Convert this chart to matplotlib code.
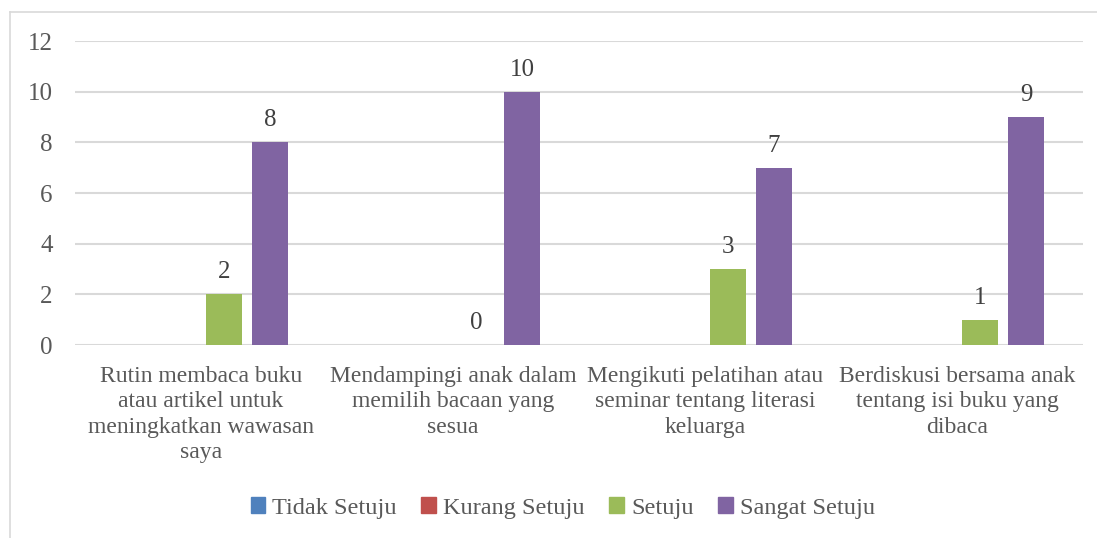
import numpy as np
import matplotlib.pyplot as plt
from matplotlib.lines import Line2D

categories = ["Rutin membaca buku\natau artikel untuk\nmeningkatkan wawasan\nsaya",
              "Mendampingi anak dalam\nmemilih bacaan yang\nsesua",
              "Mengikuti pelatihan atau\nseminar tentang literasi\nkeluarga",
              "Berdiskusi bersama anak\ntentang isi buku yang\ndibaca"]
series = ["Tidak Setuju", "Kurang Setuju", "Setuju", "Sangat Setuju"]
tidak = [0, 0, 0, 0]
kurang = [0, 0, 0, 0]
setuju = [2, 0, 3, 1]
sangat = [8, 10, 7, 9]
colors = ["#4f81bd", "#c0504d", "#9bbb59", "#8064a2"]

plt.rcParams['font.family'] = ['Liberation Serif', 'DejaVu Serif']

fig = plt.figure(figsize=(10.97, 5.38), dpi=100)
ax = fig.add_axes([75 / 1097, 1 - 345 / 538, 1008 / 1097, 304 / 538])

x = np.arange(len(categories))
slot = 0.1825
width = 0.143
values = [tidak, kurang, setuju, sangat]
for i, (name, vals, c) in enumerate(zip(series, values, colors)):
    pos = x + (i - 1.5) * slot
    ax.bar(pos, vals, width, color=c, label=name, zorder=3)
    if i >= 2:
        for p, v in zip(pos, vals):
            ax.annotate(str(v), (p, v), xytext=(0, 8), textcoords='offset points',
                        ha='center', va='bottom', fontsize=18, color='#404040')

ax.set_xlim(-0.5, 3.5)
ax.set_ylim(0, 12)
ax.set_yticks(range(0, 13, 2))
ax.yaxis.grid(True, color='#d9d9d9', linewidth=1.5, zorder=0)
ax.set_axisbelow(True)
for s in ax.spines.values():
    s.set_visible(False)
ax.tick_params(axis='both', length=0, colors='#595959')
ax.tick_params(axis='y', pad=16, labelsize=18)
ax.tick_params(axis='x', pad=15)
ax.set_xticks(x)
ax.set_xticklabels(categories, fontsize=17, color='#595959', linespacing=1.28)

handles = [plt.Rectangle((0, 0), 1, 1, color=c) for c in colors]
fig.legend(handles, series, loc='center', bbox_to_anchor=(0.513, 1 - 508 / 538), ncol=4,
           frameon=False, fontsize=17.5, handlelength=0.6, handleheight=0.6,
           handletextpad=0.3, columnspacing=1.0, labelcolor='#595959')

fig.add_artist(Line2D([10 / 1097, 10 / 1097], [0, 1 - 12 / 538], color='#d9d9d9', lw=1.2, transform=fig.transFigure))
fig.add_artist(Line2D([10 / 1097, 1], [1 - 12 / 538, 1 - 12 / 538], color='#d9d9d9', lw=1.2, transform=fig.transFigure))

fig.savefig('out.png', dpi=100)
